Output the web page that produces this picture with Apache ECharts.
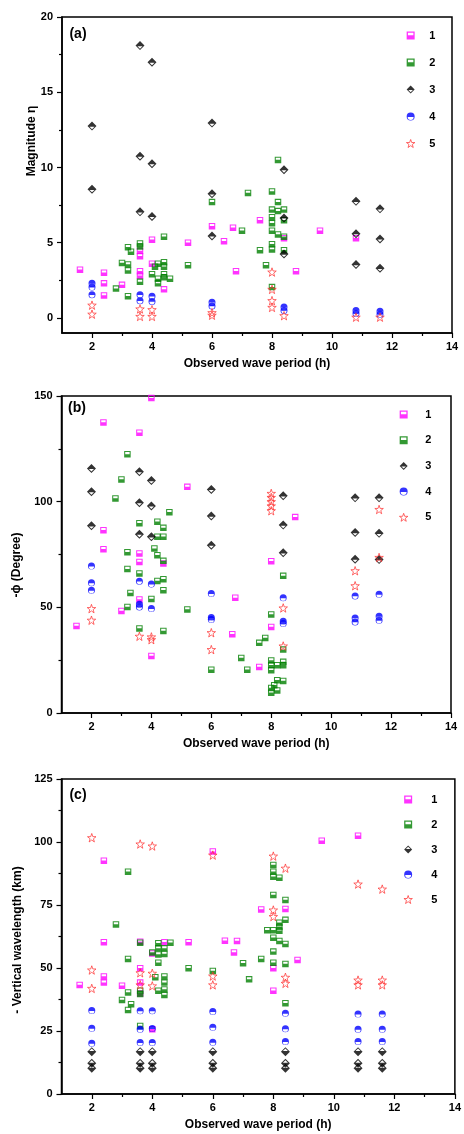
<!DOCTYPE html>
<html>
<head>
<meta charset="utf-8">
<script src="https://cdn.jsdelivr.net/npm/echarts@6/dist/echarts.min.js"></script>
<style>
html, body { margin: 0; padding: 0; background: #fff; }
#chart { width: 464px; height: 1134px; }
</style>
</head>
<body>
<div id="chart"></div>
<script>
// ---- data ----
const seriesNames = ['1', '2', '3', '4', '5'];
const periodLabels = [2, 4, 6, 8, 10, 12, 14];
const periodMinor = [3, 5, 7, 9, 11, 13];

const magLabels = [0, 5, 10, 15, 20];
const magMinor = [2.5, 7.5, 12.5, 17.5];
const phaseLabels = [0, 50, 100, 150];
const phaseMinor = [25, 75, 125];
const lambdaLabels = [0, 25, 50, 75, 100, 125];
const lambdaMinor = [12.5, 37.5, 62.5, 87.5, 112.5];

// (a) magnitude
const magS1 = [[1.6, 3.2], [2.4, 3.0], [2.4, 2.3], [2.4, 1.5], [3.0, 2.2], [3.6, 4.45], [3.6, 4.1], [3.6, 3.1], [3.6, 2.8],
  [4.0, 5.2], [4.0, 3.6], [4.4, 1.9], [5.2, 5.0], [6.0, 6.1], [6.4, 5.1], [6.7, 6.0], [6.8, 3.1], [7.6, 6.5], [8.4, 5.3],
  [8.8, 3.1], [9.6, 5.8], [10.8, 5.3]];
const magS2 = [[2.8, 1.95], [3.0, 3.65], [3.2, 4.7], [3.2, 3.55], [3.2, 3.15], [3.2, 1.45], [3.3, 4.4], [3.6, 4.95], [3.6, 4.75],
  [3.6, 2.4], [4.0, 2.9], [4.1, 3.4], [4.2, 3.6], [4.2, 2.6], [4.2, 2.3], [4.4, 5.4], [4.4, 3.7], [4.4, 3.4], [4.4, 2.9],
  [4.4, 2.7], [4.6, 2.6], [5.2, 3.5], [6.0, 7.7], [7.0, 5.8], [7.2, 8.3], [7.6, 4.5], [7.8, 3.5], [8.0, 8.4], [8.2, 10.5],
  [8.2, 7.7], [8.0, 7.2], [8.2, 7.1], [8.4, 7.2], [8.0, 6.7], [8.0, 6.3], [8.4, 6.5], [8.0, 5.8], [8.2, 5.55], [8.4, 5.4],
  [8.0, 4.9], [8.0, 4.55], [8.4, 4.5], [8.0, 2.05]];
const magS3 = [[2, 12.75], [2, 8.55], [3.6, 18.1], [3.6, 10.75], [3.6, 7.05], [4, 17], [4, 10.25], [4, 6.75], [6, 12.95],
  [6, 8.25], [6, 5.45], [8.4, 9.85], [8.4, 6.65], [8.4, 4.25], [10.8, 7.75], [10.8, 5.6], [10.8, 3.55], [11.6, 7.25],
  [11.6, 5.25], [11.6, 3.3]];
const magS4 = [[2, 2.3], [2, 2.05], [2, 1.55], [3.6, 1.55], [3.6, 1.15], [4, 1.45], [4, 1.1], [6, 1.05], [6, 0.8],
  [8.4, 0.72], [8.4, 0.5], [10.8, 0.5], [10.8, 0.3], [11.6, 0.45], [11.6, 0.25]];
const magS5 = [[2, 0.85], [2, 0.25], [3.6, 0.6], [3.6, 0.1], [4, 0.55], [4, 0.1], [6, 0.35], [6, 0.18], [8, 3.05], [8, 1.9],
  [8, 1.15], [8, 0.7], [8.4, 0.15], [10.8, 0.05], [11.6, 0.05]];

// (b) phase
const phaseS1 = [[1.5, 41.2], [2.4, 137.5], [2.4, 86.5], [2.4, 77.5], [3.0, 48.3], [3.6, 132.6], [3.6, 75.5], [3.6, 71.5],
  [3.6, 53.7], [4.0, 149], [4.0, 27], [4.4, 70.7], [5.2, 107], [6.7, 37.3], [6.8, 54.5], [7.6, 21.8], [8.0, 71.8],
  [8.0, 40.7], [8.8, 92.7]];
const phaseS2 = [[3.2, 122.4], [3.0, 110.5], [2.8, 101.5], [3.2, 76.1], [3.2, 68.1], [3.3, 56.8], [3.2, 50.2], [3.6, 89.8],
  [3.6, 66], [3.6, 40], [4.0, 54], [4.1, 77.8], [4.2, 90.5], [4.2, 83.4], [4.2, 74.7], [4.2, 62.5], [4.4, 87.6], [4.4, 83.4],
  [4.4, 72], [4.4, 63.3], [4.4, 58.1], [4.4, 38.8], [4.6, 95], [5.2, 49], [6.0, 20.5], [7.0, 26], [7.2, 20.5], [7.6, 33.2],
  [7.8, 35.5], [8.0, 46.6], [8.4, 64.9], [8.0, 24.9], [8.0, 22.6], [8.0, 20.2], [8.2, 22.6], [8.4, 24.2], [8.4, 22.6],
  [8.4, 30], [8.2, 15.5], [8.4, 15.2], [8.1, 13.1], [8.0, 11.8], [8.2, 10.7], [8.0, 9.6]];
const phaseS3 = [[2, 115.7], [2, 104.7], [2, 88.6], [3.6, 114.2], [3.6, 99.5], [3.6, 84.6], [4, 110], [4, 98], [4, 83.4],
  [6, 105.8], [6, 93.2], [6, 79.4], [8.4, 102.8], [8.4, 88.9], [8.4, 75.8], [10.8, 101.8], [10.8, 85.4], [10.8, 72.8],
  [11.6, 101.8], [11.6, 85], [11.6, 72.6]];
const phaseS4 = [[2, 69.5], [2, 61.6], [2, 58.1], [3.6, 62.4], [3.6, 51.5], [3.6, 50.2], [4, 61], [4, 49.4], [6, 56.5],
  [6, 45.2], [6, 44.2], [8.4, 54.5], [8.4, 43.4], [8.4, 42.3], [10.8, 55.4], [10.8, 45], [10.8, 43.1], [11.6, 56.2],
  [11.6, 45.8], [11.6, 43.9]];
const phaseS5 = [[2, 49.4], [2, 43.9], [3.6, 36.3], [4, 36], [4, 34.7], [6, 38], [6, 30], [8, 103.9], [8, 102], [8, 100],
  [8, 98], [8, 95.7], [8.4, 49.7], [8.4, 31.7], [10.8, 67.3], [10.8, 60.2], [11.6, 96.3], [11.6, 73.6]];

// (c) vertical wavelength
const lambdaS1 = [[1.6, 43.3], [2.4, 92.6], [2.4, 60.2], [2.4, 46.6], [2.4, 44.2], [3.0, 43], [3.6, 60.4], [3.6, 49.9],
  [3.6, 44.2], [3.6, 39.9], [4.0, 55.8], [4.0, 25.7], [4.4, 60.2], [5.2, 60.2], [6.0, 96.2], [6.4, 60.8], [6.8, 60.7],
  [6.7, 56.2], [7.6, 73.2], [8.4, 73.4], [8.0, 49.9], [8.0, 41], [8.8, 53.2], [9.6, 100.5], [10.8, 102.5]];
const lambdaS2 = [[3.2, 88.2], [2.8, 67.3], [3.2, 53.6], [3.2, 40.3], [3.2, 33.3], [3.0, 37.3], [3.3, 35.6], [3.6, 60],
  [3.6, 41], [3.6, 39.7], [3.6, 27], [4.0, 56.2], [4.1, 46.3], [4.2, 59.8], [4.2, 57.8], [4.2, 55.4], [4.2, 52.1], [4.2, 41],
  [4.4, 57.8], [4.4, 55.6], [4.4, 46.6], [4.4, 44.2], [4.4, 41.5], [4.4, 39.3], [4.6, 60], [5.2, 49.9], [6.0, 48.8],
  [7.0, 51.9], [7.2, 45.5], [7.6, 53.6], [7.8, 65], [8.0, 90.9], [8.0, 88.2], [8.0, 86.2], [8.2, 85.8], [8.0, 79],
  [8.4, 77], [8.4, 69.1], [8.2, 68], [8.2, 66.4], [8.2, 64.8], [8.0, 65], [8.0, 62], [8.2, 60.7], [8.4, 59.5], [8.0, 56.5],
  [8.0, 52.1], [8.4, 51.6], [8.4, 36]];
const lambdaS3 = [[2, 16.8], [2, 12.2], [2, 10.2], [3.6, 16.8], [3.6, 12.2], [3.6, 10.2], [4, 16.8], [4, 12.2], [4, 10.2],
  [6, 16.8], [6, 12.2], [6, 10.2], [8.4, 16.8], [8.4, 12.2], [8.4, 10.2], [10.8, 16.8], [10.8, 12.2], [10.8, 10.2],
  [11.6, 16.8], [11.6, 12.2], [11.6, 10.2]];
const lambdaS4 = [[2, 33.1], [2, 26.1], [2, 20.1], [3.6, 33], [3.6, 25.7], [3.6, 20.4], [4, 33], [4, 26], [4, 20.4],
  [6, 32.7], [6, 26.5], [6, 20.5], [8.4, 32], [8.4, 25.9], [8.4, 20.8], [10.8, 31.7], [10.8, 25.7], [10.8, 20.8],
  [11.6, 31.7], [11.6, 25.7], [11.6, 20.8]];
const lambdaS5 = [[2, 101.7], [2, 49.2], [2, 41.9], [3.6, 99.2], [3.6, 48.1], [3.6, 43.3], [4, 98.4], [4, 47.9], [4, 42.9],
  [6, 94.8], [6, 46.8], [6, 43.3], [8, 94.4], [8, 73], [8, 70.4], [8.4, 89.6], [8.4, 46.3], [8.4, 43.9], [10.8, 83.3],
  [10.8, 45.2], [10.8, 43.3], [11.6, 81.3], [11.6, 45.2], [11.6, 43.3]];

// ---- symbols: half filled shapes (holes made by reversed sub-paths) ----
const SQ = 'path://M0,0H10V10H0Z M1.6,1.6V4.7H8.4V1.6Z';
const DIA_TOP = 'path://M5,0L10,5L5,10L0,5Z M2.2,5.7L5,8.4L7.8,5.7Z';
const DIA_BOT = 'path://M5,0L10,5L5,10L0,5Z M2.2,4.3L7.8,4.3L5,1.6Z';
const CIR_TOP = 'path://M0,5A5,5 0 1 1 10,5A5,5 0 1 1 0,5Z M1.3,5.6A3.7,3.7 0 0 0 8.7,5.6Z';
const STAR = 'path://M5,0L6.18,3.38L9.76,3.45L6.9,5.62L7.94,9.05L5,7L2.06,9.05L3.1,5.62L0.24,3.45L3.82,3.38Z';

const MAG = '#ff00ff', GRN = '#008000', BLK = '#000000', BLU = '#0000ff', RED = '#ff3030';
const FONT = '"Liberation Sans", Arial, sans-serif';

const grids = [
  { left: 62, top: 17, width: 390, height: 316 },
  { left: 61.5, top: 396, width: 389.5, height: 317 },
  { left: 61.5, top: 779, width: 396, height: 315 },
];

const axisLineStyle = { color: '#000', width: 1.5 };
const labelStyle = { color: '#000', fontSize: 11, fontWeight: 'bold', fontFamily: FONT };

function xMain(g) {
  return {
    type: 'value', gridIndex: g, min: 1, max: 14, position: 'bottom',
    name: 'Observed wave period (h)', nameLocation: 'middle', nameGap: 25,
    nameTextStyle: { color: '#000', fontSize: 12, fontWeight: 'bold', fontFamily: FONT },
    axisLine: { onZero: false, lineStyle: axisLineStyle },
    axisTick: { length: 5, customValues: periodLabels, lineStyle: { color: '#000', width: 1.2 } },
    axisLabel: { margin: 8, customValues: periodLabels, ...labelStyle },
    splitLine: { show: false },
  };
}
function xMinor(g) {
  return {
    type: 'value', gridIndex: g, min: 1, max: 14, position: 'bottom',
    axisLine: { show: false, onZero: false },
    axisTick: { length: 3, customValues: periodMinor, lineStyle: { color: '#000', width: 1.2 } },
    axisLabel: { show: false },
    splitLine: { show: false },
  };
}
function yMain(g, min, max, labels) {
  return {
    type: 'value', gridIndex: g, min: min, max: max, position: 'left',
    axisLine: { onZero: false, lineStyle: axisLineStyle },
    axisTick: { length: 5, customValues: labels, lineStyle: { color: '#000', width: 1.2 } },
    axisLabel: { margin: 9, customValues: labels, ...labelStyle },
    splitLine: { show: false },
  };
}
function yMinor(g, min, max, ticks) {
  return {
    type: 'value', gridIndex: g, min: min, max: max, position: 'left',
    axisLine: { show: false, onZero: false },
    axisTick: { length: 3, customValues: ticks, lineStyle: { color: '#000', width: 1.2 } },
    axisLabel: { show: false },
    splitLine: { show: false },
  };
}

function markStyle(color, hollow) {
  return hollow
    ? { color: 'rgba(255,255,255,0)', borderColor: color, borderWidth: 0.9 }
    : { color: color, borderWidth: 0 };
}

function sc(g, name, data, symbol, size, color, hollow) {
  return {
    type: 'scatter', name: name, xAxisIndex: g, yAxisIndex: g, data: data,
    symbol: symbol, symbolSize: size,
    itemStyle: markStyle(color, hollow),
  };
}

function panelSeries(g, s1, s2, s3, s4, s5, diamond) {
  return [
    sc(g, '1', s1, SQ, 6.5, MAG),
    sc(g, '2', s2, SQ, 6.5, GRN),
    sc(g, '3', s3, diamond, 9, BLK),
    sc(g, '4', s4, CIR_TOP, 7, BLU),
    sc(g, '5', s5, STAR, 8.5, RED, true),
  ];
}

function legendFor(left, top, gap, w, diamond) {
  const icons = [SQ, SQ, diamond, CIR_TOP, STAR];
  const colors = [MAG, GRN, BLK, BLU, RED];
  return {
    orient: 'vertical', left: left, top: top, padding: 0,
    itemWidth: w, itemHeight: 8, itemGap: gap,
    textStyle: { color: '#000', fontSize: 11, fontWeight: 'bold', fontFamily: FONT },
    data: seriesNames.map((n, i) => ({ name: n, icon: icons[i], itemStyle: markStyle(colors[i], i === 4) })),
  };
}

function txt(x, y, text, size, rot) {
  return {
    type: 'text', x: x, y: y, rotation: rot || 0,
    style: { text: text, fill: '#000', font: 'bold ' + size + 'px ' + FONT, textAlign: 'center', textVerticalAlign: 'middle' },
  };
}

const option = {
  animation: false,
  backgroundColor: '#fff',
  grid: grids.map(g => ({ ...g, show: true, borderColor: '#000', borderWidth: 1.5, backgroundColor: 'transparent' })),
  xAxis: [xMain(0), xMain(1), xMain(2), xMinor(0), xMinor(1), xMinor(2)],
  yAxis: [
    yMain(0, -1, 20, magLabels), yMain(1, 0, 150, phaseLabels), yMain(2, 0, 125, lambdaLabels),
    yMinor(0, -1, 20, magMinor), yMinor(1, 0, 150, phaseMinor), yMinor(2, 0, 125, lambdaMinor),
  ],
  legend: [
    legendFor(406, 30, 16, 27, DIA_TOP),
    legendFor(399, 409, 14.7, 33, DIA_TOP),
    legendFor(403.5, 794, 14, 36, DIA_BOT),
  ],
  graphic: [
    txt(78, 34, '(a)', 14), txt(77, 408, '(b)', 14), txt(78, 795, '(c)', 14),
    txt(32, 141, 'Magnitude η', 12, Math.PI / 2),
    txt(17, 565, '-ϕ (Degree)', 12, Math.PI / 2),
    txt(18, 940, '- Vertical wavelength (km)', 12, Math.PI / 2),
  ],
  series: [
    ...panelSeries(0, magS1, magS2, magS3, magS4, magS5, DIA_TOP),
    ...panelSeries(1, phaseS1, phaseS2, phaseS3, phaseS4, phaseS5, DIA_TOP),
    ...panelSeries(2, lambdaS1, lambdaS2, lambdaS3, lambdaS4, lambdaS5, DIA_BOT),
  ],
};

const chart = echarts.init(document.getElementById('chart'));
chart.setOption(option);
window.addEventListener('resize', chart.resize);
</script>
</body>
</html>
